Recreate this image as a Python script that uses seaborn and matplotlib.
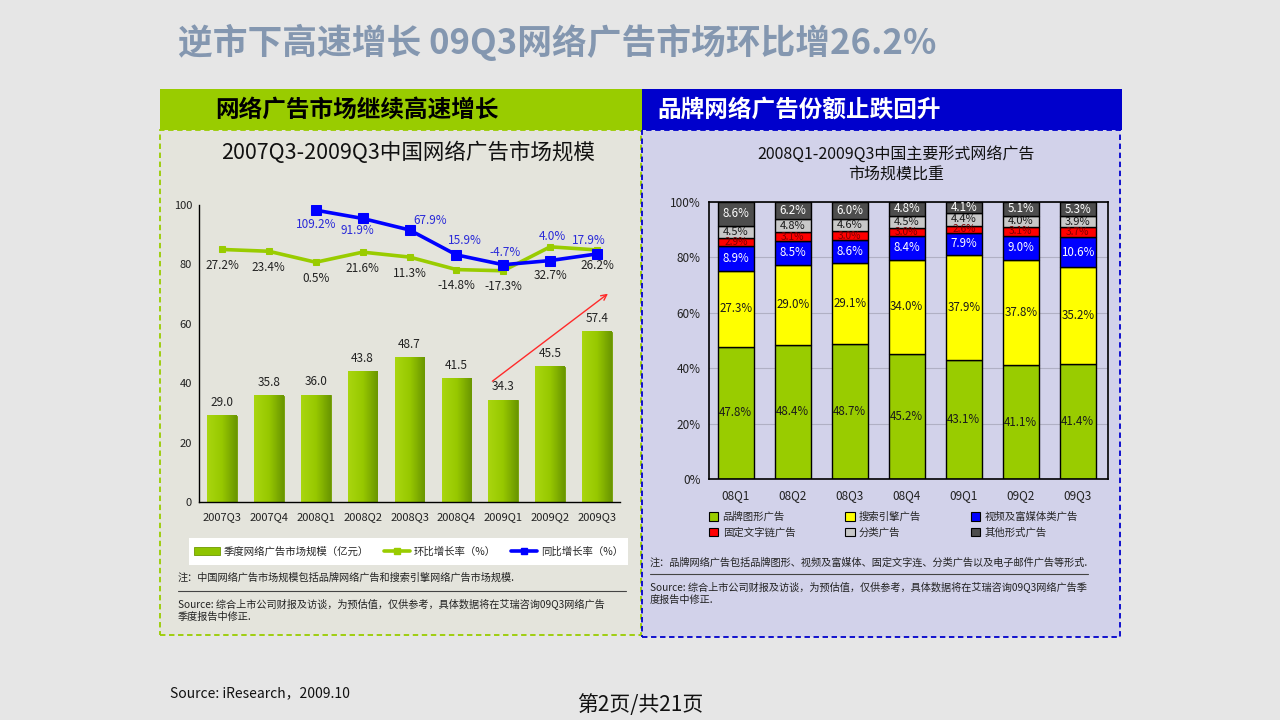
import numpy as np
import pandas as pd
import matplotlib
matplotlib.use('Agg')
import matplotlib.pyplot as plt
import seaborn as sns
from matplotlib.patches import Rectangle, Patch
from matplotlib.lines import Line2D
from matplotlib.colors import LinearSegmentedColormap

# ---------------- data ----------------
quarters_left = ['2007Q3', '2007Q4', '2008Q1', '2008Q2', '2008Q3',
                 '2008Q4', '2009Q1', '2009Q2', '2009Q3']
market_size = [29.0, 35.8, 36.0, 43.8, 48.7, 41.5, 34.3, 45.5, 57.4]
qoq_growth = [27.2, 23.4, 0.5, 21.6, 11.3, -14.8, -17.3, 32.7, 26.2]
yoy_quarters = ['2008Q1', '2008Q2', '2008Q3', '2008Q4', '2009Q1', '2009Q2', '2009Q3']
yoy_growth = [109.2, 91.9, 67.9, 15.9, -4.7, 4.0, 17.9]

quarters_right = ['08Q1', '08Q2', '08Q3', '08Q4', '09Q1', '09Q2', '09Q3']
share_brand_display = [47.8, 48.4, 48.7, 45.2, 43.1, 41.1, 41.4]
share_search = [27.3, 29.0, 29.1, 34.0, 37.9, 37.8, 35.2]
share_video = [8.9, 8.5, 8.6, 8.4, 7.9, 9.0, 10.6]
share_text_link = [2.9, 3.1, 3.0, 3.0, 2.6, 3.1, 3.7]
share_classified = [4.5, 4.8, 4.6, 4.5, 4.4, 4.0, 3.9]
share_other = [8.6, 6.2, 6.0, 4.8, 4.1, 5.1, 5.3]
segment_names = ['品牌图形广告', '搜索引擎广告', '视频及富媒体类广告',
                 '固定文字链广告', '分类广告', '其他形式广告']

# ---------------- style ----------------
sns.set_theme(style='white')
plt.rcParams['font.family'] = ['Noto Sans CJK SC', 'DejaVu Sans']
plt.rcParams['axes.unicode_minus'] = False

W, H = 1280, 720
fig = plt.figure(figsize=(12.8, 7.2), dpi=100, facecolor='#e6e6e6')


def fx(x):
    return x / W


def fy(y):
    return 1 - y / H


def frect(x0, y0, x1, y1, **kw):
    r = Rectangle((fx(x0), fy(y1)), fx(x1) - fx(x0), fy(y0) - fy(y1),
                  transform=fig.transFigure, **kw)
    fig.add_artist(r)
    return r


def fline(x0, x1, y, **kw):
    fig.add_artist(Line2D([fx(x0), fx(x1)], [fy(y), fy(y)],
                          transform=fig.transFigure, **kw))


# panels
frect(160, 130, 641, 635, facecolor='#e4e4dc', edgecolor='#99cc00', lw=1.3,
      ls=(0, (3, 2)), zorder=-3)
frect(642, 130, 1120, 637, facecolor='#d2d2ea', edgecolor='#0000cc', lw=1.3,
      ls=(0, (3, 2)), zorder=-3)
frect(160, 89, 642, 130, facecolor='#99cc00', edgecolor='none', zorder=-2)
frect(642, 89, 1122, 130, facecolor='#0000cc', edgecolor='none', zorder=-2)

fig.text(fx(178), fy(42), '逆市下高速增长 09Q3网络广告市场环比增26.2%', fontsize=25,
         fontweight='bold', color='#8497b0', va='center', ha='left')
fig.text(fx(215), fy(110), '网络广告市场继续高速增长', fontsize=17, fontweight='bold',
         color='black', va='center', ha='left')
fig.text(fx(657), fy(110), '品牌网络广告份额止跌回升', fontsize=17, fontweight='bold',
         color='white', va='center', ha='left')

# ---------------- left chart ----------------
fig.text(fx(408), fy(153), '2007Q3-2009Q3中国网络广告市场规模', fontsize=15.5,
         ha='center', va='center', color='#111111')

ax1 = fig.add_axes([fx(199), fy(502), (620 - 199) / W, (502 - 205) / H])
ax1.set_facecolor('none')
sns.barplot(x=quarters_left, y=market_size, ax=ax1, color='#8fc400',
            saturation=1, width=0.63, errorbar=None, edgecolor='#6e9a00', linewidth=0.6)
cmap = LinearSegmentedColormap.from_list('gbar', ['#a9d60f', '#97c800', '#6a9600'])
grad = np.linspace(0, 1, 64).reshape(1, -1)
for bar in list(ax1.patches):
    x0, y0 = bar.get_x(), bar.get_y()
    w, h = bar.get_width(), bar.get_height()
    ax1.imshow(grad, extent=[x0, x0 + w, y0, y0 + h], cmap=cmap, aspect='auto',
               zorder=bar.get_zorder() + 0.1, interpolation='bicubic')
for i, v in enumerate(market_size):
    ax1.annotate(f'{v:.1f}', (i, v), xytext=(0, 9.5), textcoords='offset points',
                 ha='center', va='center', fontsize=8.5, color='#222222')

ax1.set_ylim(0, 100)
ax1.set_yticks(range(0, 101, 20))
ax1.set_xlabel('')
ax1.set_ylabel('')
for s in ['top', 'right']:
    ax1.spines[s].set_visible(False)
for s in ['left', 'bottom']:
    ax1.spines[s].set_color('black')
    ax1.spines[s].set_linewidth(1.0)
ax1.tick_params(axis='both', length=0, labelsize=8, colors='#222222')
ax1.tick_params(axis='y', pad=5)
ax1.tick_params(axis='x', pad=7)

ax1b = ax1.twinx()
x_qoq = np.arange(len(quarters_left))
x_yoy = np.array([quarters_left.index(q) for q in yoy_quarters])
sns.lineplot(x=x_qoq, y=qoq_growth, ax=ax1b, color='#99cc00', lw=2.6,
             marker='s', markersize=5, markeredgecolor='#99cc00')
sns.lineplot(x=x_yoy, y=yoy_growth, ax=ax1b, color='#0000ff', lw=2.6,
             marker='s', markersize=6.5, markeredgecolor='#0000ff')
ax1b.set_ylim(-500, 120)
ax1b.axis('off')

qoq_offsets = {7: -21}
for i, v in enumerate(qoq_growth):
    dy = qoq_offsets.get(i, -11.5)
    ax1b.annotate(f'{v:.1f}%', (x_qoq[i], v), xytext=(0, dy), textcoords='offset points',
                  ha='center', va='center', fontsize=8.5, color='#222222')
yoy_offsets = [(0, -10), (-4, -8.5), (15, 6.5), (6, 10.5), (1, 8.5), (1.5, 17), (-6, 10)]
for (i, v), (dx, dy) in zip(zip(x_yoy, yoy_growth), yoy_offsets):
    ax1b.annotate(f'{v:.1f}%', (i, v), xytext=(dx, dy), textcoords='offset points',
                  ha='center', va='center', fontsize=8.5, color='#2a2ad8')

ax1.annotate('', xy=(8.28, 70.7), xytext=(5.72, 40.1),
             arrowprops=dict(arrowstyle='->', color='#ff2a2a', lw=1.0, mutation_scale=10))
ax1.set_xlim(-0.49, 8.49)
ax1b.set_xlim(-0.49, 8.49)

# left legend
frect(189, 538, 628, 565, facecolor='white', edgecolor='none', zorder=-1)
h_left = [Patch(facecolor='#8fc400', edgecolor='#6e9a00', lw=0.6),
          Line2D([], [], color='#99cc00', lw=2.6, marker='s', markersize=4),
          Line2D([], [], color='#0000ff', lw=2.6, marker='s', markersize=5)]
l_left = ['季度网络广告市场规模（亿元）', '环比增长率（%）', '同比增长率（%）']
fig.legend(h_left, l_left, loc='center', bbox_to_anchor=(fx(408.5), fy(551.5)),
           ncol=3, frameon=False, fontsize=7.5, handlelength=2.5,
           columnspacing=1.4, handletextpad=0.4, borderaxespad=0, borderpad=0)

fig.text(fx(178), fy(578), '注：中国网络广告市场规模包括品牌网络广告和搜索引擎网络广告市场规模.',
         fontsize=7.3, va='center', color='#222222')
fline(178, 626, 591, color='#444444', lw=0.8)
fig.text(fx(178), fy(604), 'Source: 综合上市公司财报及访谈，为预估值，仅供参考，具体数据将在艾瑞咨询09Q3网络广告',
         fontsize=7.3, va='center', color='#222222')
fig.text(fx(178), fy(617), '季度报告中修正.', fontsize=7.3, va='center', color='#222222')

# ---------------- right chart ----------------
fig.text(fx(896), fy(164), '2008Q1-2009Q3中国主要形式网络广告\n市场规模比重', fontsize=11.5,
         ha='center', va='center', linespacing=1.25, color='#111111')

ax2 = fig.add_axes([fx(709), fy(479), (1108 - 709) / W, (479 - 202) / H])
ax2.set_facecolor('none')
segments = [share_brand_display, share_search, share_video,
            share_text_link, share_classified, share_other]
seg_colors = ['#99cc00', '#ffff00', '#0000ff', '#ff0000', '#c8c8c8', '#4d4d4d']
seg_text = ['#1a1a1a', '#1a1a1a', 'white', '#7a0000', '#1a1a1a', 'white']
seg_fs = [8.3, 8.3, 8.3, 7.3, 8.0, 8.3]
bottom = np.zeros(len(quarters_right))
for vals, c, tc, fs in zip(segments, seg_colors, seg_text, seg_fs):
    vals = np.array(vals)
    sns.barplot(x=quarters_right, y=vals, bottom=bottom, ax=ax2, color=c,
                saturation=1, width=0.63, errorbar=None, edgecolor='black',
                linewidth=1.0)
    for i, v in enumerate(vals):
        ax2.text(i, bottom[i] + v / 2, f'{v:.1f}%', ha='center', va='center',
                 fontsize=fs, color=tc, zorder=5)
    bottom = bottom + vals

ax2.set_ylim(0, 100)
ax2.set_xlim(-0.47, 6.53)
ax2.set_yticks(range(0, 101, 20))
ax2.set_yticklabels([f'{v}%' for v in range(0, 101, 20)])
ax2.set_xlabel('')
ax2.set_ylabel('')
ax2.yaxis.grid(True, color='#b0b0c4', lw=0.8)
ax2.xaxis.grid(False)
ax2.set_axisbelow(True)
for s in ax2.spines.values():
    s.set_visible(True)
    s.set_color('black')
    s.set_linewidth(1.2)
ax2.tick_params(axis='both', length=0, labelsize=8.5, colors='#222222')
ax2.tick_params(axis='y', pad=6)
ax2.tick_params(axis='x', pad=7)

order = [0, 3, 1, 4, 2, 5]
h_right = [Patch(facecolor=seg_colors[k], edgecolor='black', lw=0.8) for k in order]
l_right = [segment_names[k] for k in order]
fig.legend(h_right, l_right, loc='upper left', bbox_to_anchor=(fx(709), fy(512)),
           ncol=3, frameon=False, fontsize=7.5, handlelength=0.9, handleheight=0.9,
           handletextpad=0.4, columnspacing=4.8, labelspacing=0.5,
           borderaxespad=0, borderpad=0)

fig.text(fx(650), fy(563), '注：品牌网络广告包括品牌图形、视频及富媒体、固定文字连、分类广告以及电子邮件广告等形式.',
         fontsize=7.3, va='center', color='#222222')
fline(650, 1088, 574, color='#444444', lw=0.8)
fig.text(fx(650), fy(587), 'Source: 综合上市公司财报及访谈，为预估值，仅供参考，具体数据将在艾瑞咨询09Q3网络广告季',
         fontsize=7.3, va='center', color='#222222')
fig.text(fx(650), fy(600), '度报告中修正.', fontsize=7.3, va='center', color='#222222')

# ---------------- footer ----------------
fig.text(fx(170), fy(693), 'Source: iResearch，2009.10', fontsize=10, va='center',
         color='#111111')
fig.text(fx(640), fy(705), '第2页/共21页', fontsize=15, ha='center', va='center',
         color='#111111')

fig.savefig('out.png', dpi=100, facecolor=fig.get_facecolor())
